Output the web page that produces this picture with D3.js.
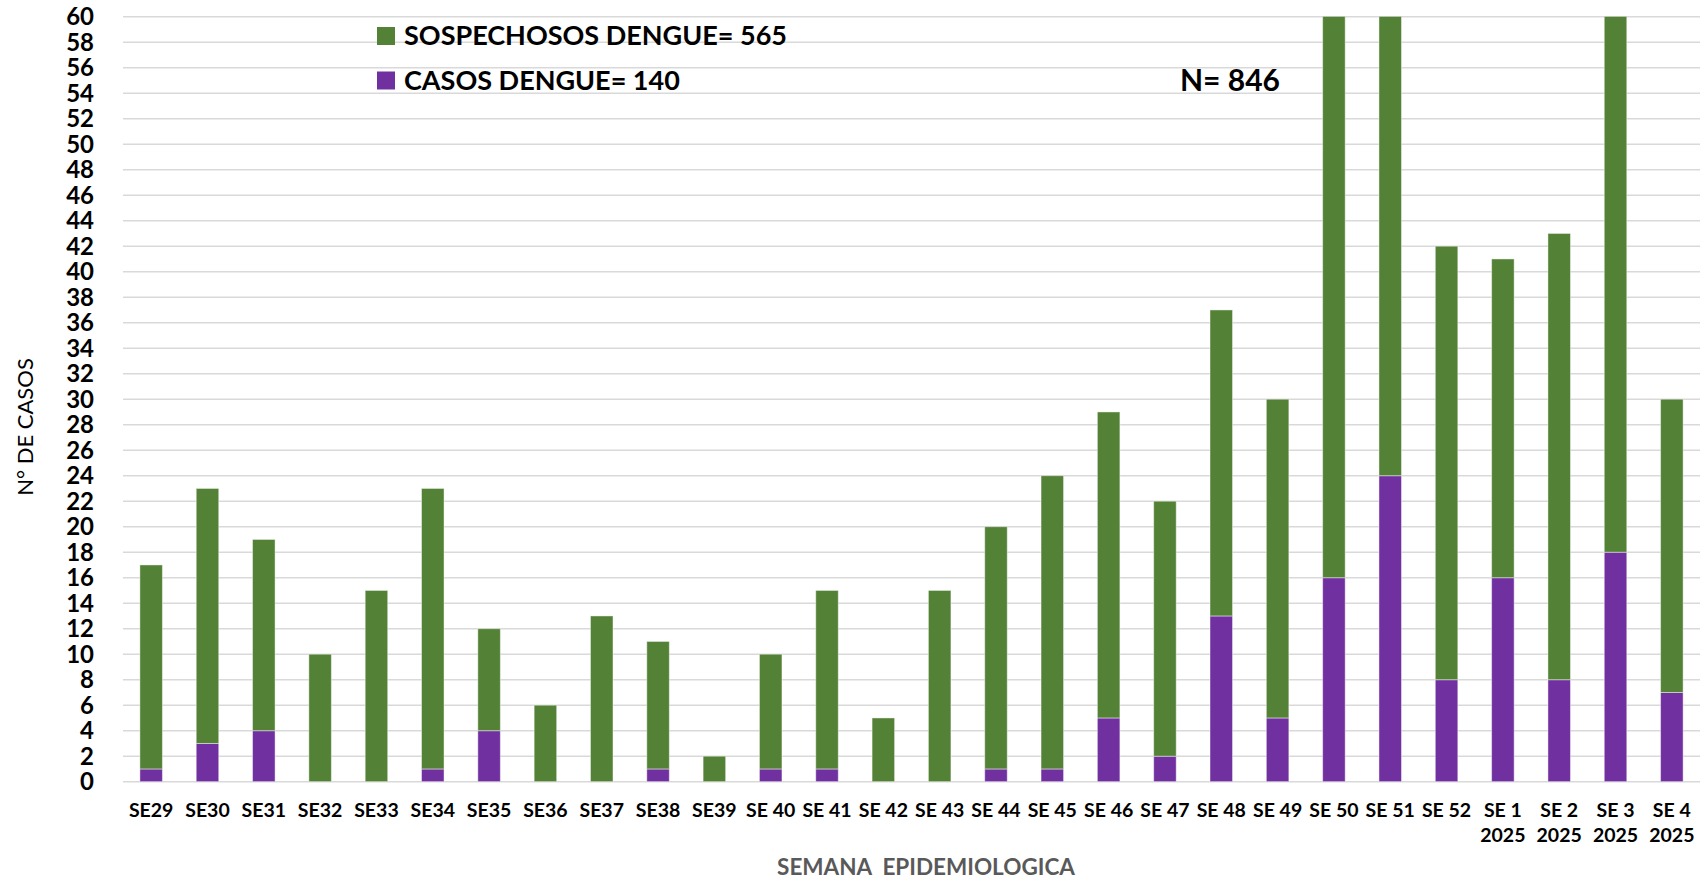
<!DOCTYPE html>
<html>
  <head>
    <script src="https://cdn.jsdelivr.net/npm/d3@7"></script>
<style>
  body { margin: 0; background: #fff; }
  svg { display: block; font-family: Lato, "Open Sans", sans-serif; }
</style>
  </head>
  <body>
    <div id="vis"></div>
    <script type="text/javascript">

        // semanas epidemiologicas (2024 -> 2025)
        const weeks = ["SE29", "SE30", "SE31", "SE32", "SE33", "SE34", "SE35", "SE36",
            "SE37", "SE38", "SE39", "SE 40", "SE 41", "SE 42", "SE 43", "SE 44",
            "SE 45", "SE 46", "SE 47", "SE 48", "SE 49", "SE 50", "SE 51", "SE 52",
            "SE 1|2025", "SE 2|2025", "SE 3|2025", "SE 4|2025"];
        const casos = [1, 3, 4, 0, 0, 1, 4, 0, 0, 1, 0, 1, 1, 0, 0, 1, 1, 5, 2, 13,
            5, 16, 24, 8, 16, 8, 18, 7];
        const sospechosos = [16, 20, 15, 10, 15, 22, 8, 6, 13, 10, 2, 9, 14, 5, 15, 19,
            23, 24, 20, 24, 25, 47, 40, 34, 25, 35, 46, 23];
        const yTicks = d3.range(0, 61, 2);
        const legendItems = [
            {label: "SOSPECHOSOS DENGUE= 565", color: "#538135"},
            {label: "CASOS DENGUE= 140", color: "#7030A0"}
        ];

        const width = 1708;
        const height = 880;
        const plotL = 123, plotR = 1700, plotT = 16.7, plotB = 781.7;

        const svg = d3.select("#vis").append("svg")
            .attr("width", width)
            .attr("height", height);

        const x = d3.scaleBand().domain(weeks).range([plotL, plotR])
            .paddingInner(0.6).paddingOuter(0.3);
        const y = d3.scaleLinear().domain([0, 60]).range([plotB, plotT]);

        // grid
        svg.append("g").selectAll("line")
            .data(yTicks)
            .join("line")
            .attr("x1", plotL).attr("x2", plotR)
            .attr("y1", d => y(d)).attr("y2", d => y(d))
            .attr("stroke", "#d9d9d9")
            .attr("stroke-width", 1.6);

        // stacked bars
        const table = weeks.map((w, i) => ({week: w, casos: casos[i], sospechosos: sospechosos[i]}));
        const series = d3.stack().keys(["casos", "sospechosos"])(table);
        const colors = {casos: "#7030A0", sospechosos: "#538135"};

        svg.append("clipPath").attr("id", "plot")
            .append("rect").attr("x", plotL).attr("y", plotT)
            .attr("width", plotR - plotL).attr("height", plotB - plotT);

        svg.append("g").attr("clip-path", "url(#plot)")
            .selectAll("g")
            .data(series)
            .join("g")
            .attr("fill", s => colors[s.key])
            .selectAll("rect")
            .data(s => s.filter(d => d[1] > d[0]))
            .join("rect")
            .attr("x", d => x(d.data.week))
            .attr("width", x.bandwidth())
            .attr("y", d => y(d[1]))
            .attr("height", d => y(d[0]) - y(d[1]))
            .attr("stroke", "rgba(255,255,255,0.45)")
            .attr("stroke-width", 1);

        // y axis labels
        svg.append("g").selectAll("text")
            .data(yTicks)
            .join("text")
            .attr("x", 94)
            .attr("y", d => y(d))
            .attr("dy", "0.36em")
            .attr("text-anchor", "end")
            .attr("font-size", 24)
            .attr("font-weight", 700)
            .attr("fill", "#000")
            .text(d => d);

        // x axis labels
        const xl = svg.append("g").selectAll("text")
            .data(weeks)
            .join("text")
            .attr("x", d => x(d) + x.bandwidth() / 2)
            .attr("y", 817)
            .attr("text-anchor", "middle")
            .attr("font-size", 19.5)
            .attr("font-weight", 700)
            .attr("fill", "#000");
        xl.selectAll("tspan")
            .data(d => d.split("|"))
            .join("tspan")
            .attr("x", function() { return this.parentNode.getAttribute("x"); })
            .attr("dy", (d, i) => i ? 25 : 0)
            .text(d => d);

        // axis titles
        svg.append("text")
            .attr("x", 926).attr("y", 875)
            .attr("text-anchor", "middle")
            .attr("font-size", 22.5)
            .attr("font-weight", 700)
            .attr("fill", "#595959")
            .attr("xml:space", "preserve")
            .text("SEMANA  EPIDEMIOLOGICA");

        svg.append("text")
            .attr("transform", "translate(33,427) rotate(-90)")
            .attr("text-anchor", "middle")
            .attr("font-size", 22)
            .attr("fill", "#000")
            .text("N° DE CASOS");

        // legend
        const lg = svg.append("g").selectAll("g")
            .data(legendItems)
            .join("g")
            .attr("transform", (d, i) => `translate(377,${27 + i * 44.5})`);
        lg.append("rect").attr("width", 18).attr("height", 18).attr("fill", d => d.color);
        lg.append("text")
            .attr("x", 27).attr("y", 18)
            .attr("font-size", 27)
            .attr("font-weight", 700)
            .attr("fill", "#000")
            .text(d => d.label);

        svg.append("text")
            .attr("x", 1180).attr("y", 91)
            .attr("font-size", 30)
            .attr("font-weight", 700)
            .attr("fill", "#000")
            .text("N= 846");

    </script>
  </body>
</html>
